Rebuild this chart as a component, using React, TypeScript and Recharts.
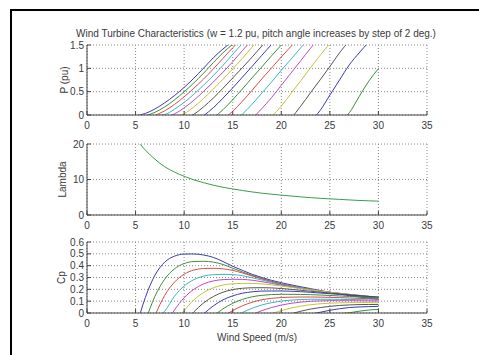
import React from 'react';
import { LineChart, Line, XAxis, YAxis, CartesianGrid } from 'recharts';

// Wind speed samples (m/s)
const windSpeed = [5, 6, 7, 8, 9, 10, 11, 12, 13, 14, 15, 16, 17, 18, 19, 20, 21, 22, 23, 24, 25, 26, 27, 28, 29, 30];
// Pitch angle of each curve (deg)
const pitchAngles = [0, 2, 4, 6, 8, 10, 12, 14, 16, 18, 20, 22, 24, 26, 28, 30];
// First wind speed at which each pitch-angle curve has a value
const curveStart = [5, 6, 7, 7, 8, 9, 10, 12, 13, 14, 15, 17, 19, 21, 23, 26];

// Power (pu) per pitch angle, from curveStart onward
const powerValues: number[][] = [
  [-0.02, 0.033, 0.13, 0.261, 0.415, 0.591, 0.788, 1.004, 1.225, 1.415, 1.581],
  [-0.018, 0.058, 0.174, 0.323, 0.496, 0.687, 0.895, 1.121, 1.334, 1.513, 1.686],
  [-0.008, 0.09, 0.225, 0.389, 0.573, 0.77, 0.985, 1.214, 1.441, 1.642],
  [-0.02, 0.009, 0.122, 0.27, 0.445, 0.639, 0.844, 1.064, 1.301, 1.53, 1.736],
  [-0.061, 0.022, 0.153, 0.316, 0.504, 0.706, 0.918, 1.141, 1.38, 1.614],
  [-0.061, 0.025, 0.174, 0.354, 0.555, 0.768, 0.989, 1.215, 1.457, 1.702],
  [-0.095, 0.014, 0.174, 0.362, 0.573, 0.793, 1.015, 1.241, 1.48, 1.725],
  [-0.016, 0.156, 0.361, 0.58, 0.811, 1.043, 1.28, 1.513, 1.765],
  [-0.065, 0.114, 0.328, 0.559, 0.798, 1.031, 1.269, 1.499, 1.735],
  [-0.098, 0.08, 0.296, 0.53, 0.775, 1.009, 1.243, 1.471, 1.705],
  [-0.16, 0.019, 0.233, 0.47, 0.708, 0.958, 1.197, 1.44, 1.674],
  [-0.082, 0.138, 0.374, 0.636, 0.9, 1.162, 1.429, 1.673],
  [-0.041, 0.19, 0.461, 0.733, 1.01, 1.279, 1.538],
  [-0.077, 0.189, 0.476, 0.754, 1.038, 1.334, 1.587],
  [-0.13, 0.098, 0.426, 0.751, 1.074, 1.328, 1.562],
  [-0.125, 0.047, 0.39, 0.723, 0.993],
];

// Power coefficient Cp per pitch angle, from curveStart onward
const cpValues: number[][] = [
  [-0.14, 0.13, 0.32, 0.43, 0.48, 0.498, 0.499, 0.49, 0.47, 0.435, 0.395, 0.36, 0.327, 0.3, 0.276, 0.256, 0.238, 0.222, 0.206, 0.19, 0.175, 0.16, 0.148, 0.136, 0.125, 0.115],
  [-0.07, 0.142, 0.286, 0.373, 0.418, 0.435, 0.437, 0.43, 0.41, 0.378, 0.347, 0.318, 0.292, 0.268, 0.247, 0.229, 0.213, 0.199, 0.186, 0.174, 0.163, 0.153, 0.143, 0.134, 0.125],
  [-0.02, 0.149, 0.26, 0.328, 0.363, 0.376, 0.378, 0.373, 0.36, 0.338, 0.313, 0.288, 0.265, 0.243, 0.226, 0.211, 0.198, 0.186, 0.175, 0.165, 0.155, 0.146, 0.137, 0.128],
  [-0.05, 0.015, 0.141, 0.228, 0.282, 0.312, 0.324, 0.327, 0.325, 0.315, 0.298, 0.279, 0.259, 0.24, 0.224, 0.21, 0.197, 0.186, 0.176, 0.166, 0.157, 0.148, 0.14, 0.131],
  [-0.1, 0.025, 0.129, 0.2, 0.246, 0.271, 0.282, 0.285, 0.284, 0.277, 0.265, 0.25, 0.235, 0.221, 0.208, 0.196, 0.185, 0.175, 0.166, 0.157, 0.149, 0.141, 0.133],
  [-0.07, 0.021, 0.11, 0.173, 0.213, 0.236, 0.247, 0.25, 0.25, 0.246, 0.238, 0.228, 0.217, 0.206, 0.195, 0.185, 0.175, 0.166, 0.158, 0.15, 0.142, 0.134],
  [-0.08, 0.009, 0.085, 0.139, 0.176, 0.198, 0.209, 0.213, 0.214, 0.212, 0.207, 0.2, 0.192, 0.184, 0.176, 0.168, 0.161, 0.154, 0.147, 0.14, 0.133],
  [-0.008, 0.06, 0.111, 0.145, 0.167, 0.179, 0.185, 0.186, 0.186, 0.184, 0.18, 0.175, 0.169, 0.163, 0.157, 0.151, 0.145, 0.139, 0.133],
  [-0.025, 0.035, 0.082, 0.115, 0.137, 0.149, 0.156, 0.158, 0.158, 0.157, 0.155, 0.152, 0.148, 0.144, 0.14, 0.136, 0.131, 0.127],
  [-0.03, 0.02, 0.061, 0.091, 0.112, 0.124, 0.131, 0.134, 0.135, 0.135, 0.134, 0.132, 0.13, 0.127, 0.124, 0.121, 0.118],
  [-0.04, 0.004, 0.04, 0.068, 0.087, 0.101, 0.109, 0.114, 0.116, 0.116, 0.116, 0.115, 0.114, 0.113, 0.111, 0.109],
  [-0.014, 0.02, 0.046, 0.067, 0.082, 0.092, 0.099, 0.102, 0.104, 0.104, 0.104, 0.103, 0.102, 0.101],
  [-0.005, 0.02, 0.042, 0.058, 0.07, 0.078, 0.083, 0.086, 0.088, 0.088, 0.088, 0.087],
  [-0.007, 0.015, 0.033, 0.046, 0.056, 0.064, 0.068, 0.071, 0.072, 0.072],
  [-0.009, 0.006, 0.023, 0.036, 0.046, 0.051, 0.054, 0.056],
  [-0.006, 0.002, 0.015, 0.025, 0.031],
];

// Tip speed ratio vs wind speed
const lambdaValues = [21.5, 18.3, 15.7, 13.6, 12.1, 10.9, 9.9, 9.1, 8.4, 7.8, 7.35, 6.9, 6.5, 6.15, 5.85, 5.6, 5.35, 5.1, 4.9, 4.7, 4.55, 4.4, 4.25, 4.1, 4.0, 3.9];

const xTicks = [0, 5, 10, 15, 20, 25, 30, 35];
const powerTicks = [0, 0.5, 1, 1.5];
const lambdaTicks = [0, 10, 20];
const cpTicks = [0, 0.1, 0.2, 0.3, 0.4, 0.5, 0.6];

const titleText = 'Wind Turbine Characteristics (w = 1.2 pu, pitch angle increases by step of 2 deg.)';
const xLabelText = 'Wind Speed (m/s)';

const lineColors = ['#3b3bb0', '#3a903a', '#e04a4a', '#3ab6c4', '#c04ac0', '#c4c43c', '#555555'];
const lambdaColor = '#3c9c50';

const rows = windSpeed.map((v, i) => {
  const row: Record<string, number | null> = { v, lambda: lambdaValues[i] };
  pitchAngles.forEach((_, k) => {
    const j = v - curveStart[k];
    row['p' + k] = j >= 0 && j < powerValues[k].length ? powerValues[k][j] : null;
    row['cp' + k] = j >= 0 && j < cpValues[k].length ? cpValues[k][j] : null;
  });
  return row;
});

const W = 479;
const H = 355;
const FONT = '"Liberation Sans", Arial, Helvetica, sans-serif';
const BOX = '#444';
const TEXT = '#3a3a3a';
const tickStyle = { fill: TEXT, fontSize: 10, fontFamily: FONT };

function Panel(props: { top: number; bottom: number; yDomain: number[]; yTicks: number[]; children: React.ReactNode }) {
  const { top, bottom, yDomain, yTicks, children } = props;
  return (
    <div style={{ position: 'absolute', left: 0, top: 0 }}>
      <LineChart width={W} height={H} data={rows} margin={{ top, right: 52, bottom: H - bottom - 20, left: 0 }}>
        <CartesianGrid stroke="#888" strokeDasharray="1 2" />
        <XAxis
          dataKey="v"
          type="number"
          domain={[0, 35]}
          ticks={xTicks}
          interval={0}
          allowDataOverflow
          height={20}
          tickSize={-4}
          tickMargin={10.5}
          tick={tickStyle}
          axisLine={{ stroke: BOX }}
          tickLine={{ stroke: BOX }}
        />
        <XAxis
          xAxisId="top"
          orientation="top"
          type="number"
          domain={[0, 35]}
          ticks={xTicks}
          interval={0}
          allowDataOverflow
          height={0}
          tickSize={-4}
          tick={false}
          axisLine={{ stroke: BOX }}
          tickLine={{ stroke: BOX }}
        />
        <YAxis
          type="number"
          domain={yDomain}
          ticks={yTicks}
          interval={0}
          allowDataOverflow
          width={87}
          tickSize={-4}
          tickMargin={7}
          tick={tickStyle}
          axisLine={{ stroke: BOX }}
          tickLine={{ stroke: BOX }}
        />
        <YAxis
          yAxisId="right"
          orientation="right"
          type="number"
          domain={yDomain}
          ticks={yTicks}
          interval={0}
          allowDataOverflow
          width={0}
          tickSize={-4}
          tick={false}
          axisLine={{ stroke: BOX }}
          tickLine={{ stroke: BOX }}
        />
        {children}
      </LineChart>
    </div>
  );
}

export default function App() {
  const powerLines = pitchAngles.map((_, k) => (
    <Line
      key={'p' + k}
      dataKey={'p' + k}
      type="monotone"
      stroke={lineColors[k % lineColors.length]}
      strokeWidth={1}
      dot={false}
      activeDot={false}
      isAnimationActive={false}
    />
  ));
  const cpLines = pitchAngles.map((_, k) => (
    <Line
      key={'cp' + k}
      dataKey={'cp' + k}
      type="monotone"
      stroke={lineColors[k % lineColors.length]}
      strokeWidth={1}
      dot={false}
      activeDot={false}
      isAnimationActive={false}
    />
  ));
  return (
    <div style={{ position: 'absolute', left: 0, top: 0, width: W, height: H, background: '#fff', fontFamily: FONT, overflow: 'hidden' }}>
      <Panel top={45} bottom={115} yDomain={[0, 1.5]} yTicks={powerTicks}>
        {powerLines}
      </Panel>
      <Panel top={144} bottom={215} yDomain={[0, 20]} yTicks={lambdaTicks}>
        <Line dataKey="lambda" type="monotone" stroke={lambdaColor} strokeWidth={1} dot={false} activeDot={false} isAnimationActive={false} />
      </Panel>
      <Panel top={242} bottom={313} yDomain={[0, 0.6]} yTicks={cpTicks}>
        {cpLines}
      </Panel>
      <svg width={W} height={H} style={{ position: 'absolute', left: 0, top: 0, pointerEvents: 'none' }}>
        <rect x={10} y={9} width={W - 10} height={2} fill="#000" />
        <rect x={10} y={9} width={2} height={H - 9} fill="#000" />
        <text x={256} y={37} textAnchor="middle" fontSize={10} fill={TEXT} fontFamily={FONT}>{titleText}</text>
        <text transform="translate(67.5,80) rotate(-90)" textAnchor="middle" fontSize={10} fill={TEXT} fontFamily={FONT}>P (pu)</text>
        <text transform="translate(65.5,179.5) rotate(-90)" textAnchor="middle" fontSize={10} fill={TEXT} fontFamily={FONT}>Lambda</text>
        <text transform="translate(65,277.5) rotate(-90)" textAnchor="middle" fontSize={10} fill={TEXT} fontFamily={FONT}>Cp</text>
        <text x={257} y={341} textAnchor="middle" fontSize={10} fill={TEXT} fontFamily={FONT}>{xLabelText}</text>
      </svg>
    </div>
  );
}
